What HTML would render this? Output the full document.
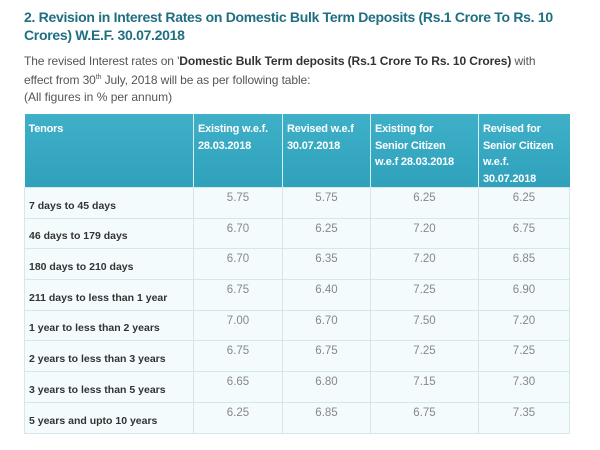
<!DOCTYPE html>
<html><head><style>
body{margin:0;width:600px;height:450px;background:#fff;font-family:"Liberation Sans",Arial,sans-serif;position:relative;overflow:hidden}
.t{position:absolute;left:24px;top:8px;width:570px;font-size:14px;font-weight:bold;color:#1f6f82;line-height:18px;letter-spacing:-0.3px;white-space:nowrap}
.p{position:absolute;left:24px;top:52px;width:548px;font-size:12px;color:#555;line-height:19px;white-space:nowrap;letter-spacing:-0.1px}
.p b{color:#333}
.p sup{font-size:7px;line-height:0;vertical-align:5px}
.a{position:absolute;left:24px;top:90px;font-size:12px;color:#555}
table{position:absolute;left:24px;top:114px;border-collapse:collapse;width:546px;table-layout:fixed}
th{background:linear-gradient(#3fb0c8,#2fa1bb);color:#fff;font-size:11px;text-align:left;vertical-align:top;padding:7px 3px 0 4px;line-height:16.5px;border-left:1px solid #d8eef3;height:71px;box-sizing:border-box;letter-spacing:-0.2px;white-space:nowrap}
th:first-child{border-left:none}
td{background:#f3fbfd;border:1px solid #d6e6ea;height:30.7px;font-size:11.5px;color:#888;text-align:center;vertical-align:top;padding:4px 0 0 0;box-sizing:border-box}
td:first-child{text-align:left;color:#333;font-weight:bold;vertical-align:bottom;padding:0 0 6px 4px;font-size:10.5px;white-space:nowrap}
</style></head><body>
<div class="t">2. Revision in Interest Rates on Domestic Bulk Term Deposits (Rs.1 Crore To Rs. 10<br>Crores) W.E.F. 30.07.2018</div>
<div class="p">The revised Interest rates on '<b>Domestic Bulk Term deposits (Rs.1 Crore To Rs. 10 Crores)</b> with<br>effect from 30<sup>th</sup> July, 2018 will be as per following table:</div>
<div class="a">(All figures in % per annum)</div>
<table>
<tr><th style="width:169px">Tenors</th><th style="width:89px">Existing w.e.f.<br>28.03.2018</th><th style="width:88px">Revised w.e.f<br>30.07.2018</th><th style="width:108px">Existing for<br>Senior Citizen<br>w.e.f 28.03.2018</th><th>Revised for<br>Senior Citizen<br>w.e.f.<br>30.07.2018</th></tr>
<tr><td>7 days to 45 days</td><td>5.75</td><td>5.75</td><td>6.25</td><td>6.25</td></tr>
<tr><td>46 days to 179 days</td><td>6.70</td><td>6.25</td><td>7.20</td><td>6.75</td></tr>
<tr><td>180 days to 210 days</td><td>6.70</td><td>6.35</td><td>7.20</td><td>6.85</td></tr>
<tr><td>211 days to less than 1 year</td><td>6.75</td><td>6.40</td><td>7.25</td><td>6.90</td></tr>
<tr><td>1 year to less than 2 years</td><td>7.00</td><td>6.70</td><td>7.50</td><td>7.20</td></tr>
<tr><td>2 years to less than 3 years</td><td>6.75</td><td>6.75</td><td>7.25</td><td>7.25</td></tr>
<tr><td>3 years to less than 5 years</td><td>6.65</td><td>6.80</td><td>7.15</td><td>7.30</td></tr>
<tr><td>5 years and upto 10 years</td><td>6.25</td><td>6.85</td><td>6.75</td><td>7.35</td></tr>
</table>
</body></html>
